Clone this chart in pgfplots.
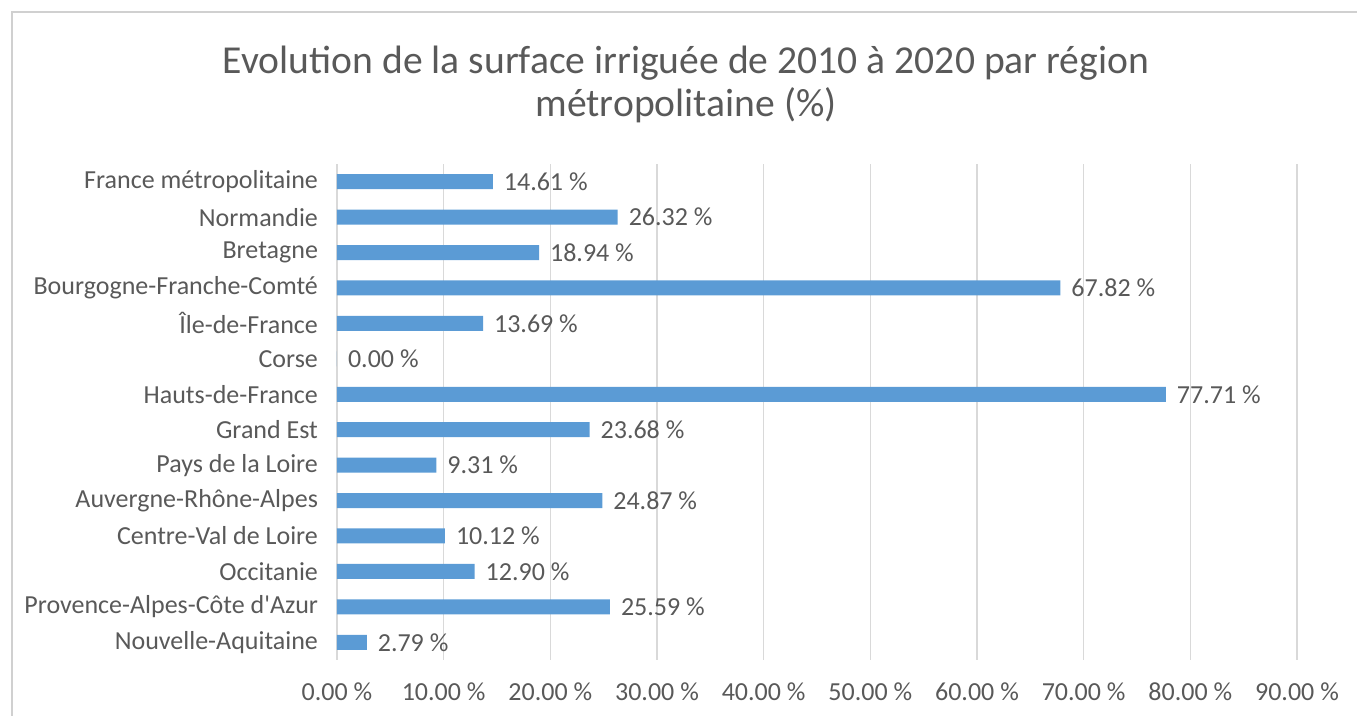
\documentclass[border=0pt]{standalone}
\usepackage{pgfplots}
\pgfplotsset{compat=1.18}
\usepackage{fontspec}
\setmainfont{Carlito}
\definecolor{barblue}{HTML}{5B9BD5}
\definecolor{txtgray}{HTML}{595959}
\definecolor{gridgray}{HTML}{D9D9D9}
\definecolor{framegray}{HTML}{D0D0D0}
\begin{document}
\begin{tikzpicture}
\useasboundingbox (-168.5pt,-28pt) rectangle (510pt,330pt);
\draw[framegray, line width=1pt] (-162.5pt,-40pt) -- (-162.5pt,324pt) -- (520pt,324pt);
\node[txtgray, align=center, font=\fontsize{19.8}{21.5}\selectfont] at (174.5pt,288pt)
  {Evolution de la surface irriguée de 2010 à 2020 par région\\métropolitaine (\%)};
\begin{axis}[
  at={(0pt,0pt)}, anchor=south west,
  scale only axis, width=480pt, height=248pt,
  xbar, bar width=7.5pt,
  xmin=0, xmax=90, ymin=-0.5, ymax=13.5,
  axis line style={draw=none},
  xmajorgrids, major grid style={gridgray, line width=0.6pt},
  xtick={0,10,...,90},
  ytick={0,...,13},
  yticklabels={Nouvelle-Aquitaine, Provence-Alpes-Côte d\textquotesingle Azur, Occitanie, Centre-Val de Loire, Auvergne-Rhône-Alpes, Pays de la Loire, Grand Est, Hauts-de-France, Corse, Île-de-France, Bourgogne-Franche-Comté, Bretagne, Normandie, France métropolitaine},
  major tick length=0pt,
  /pgf/number format/assume math mode=true,
  xticklabel={\pgfmathprintnumber[fixed,fixed zerofill,precision=2]{\tick}~\%},
  tick label style={font=\fontsize{13}{15}\selectfont, text=txtgray},
  xticklabel style={yshift=-8pt},
  yticklabel style={xshift=-6pt},
  point meta=x,
  nodes near coords={\pgfmathprintnumber[fixed,fixed zerofill,precision=2]{\pgfplotspointmeta}~\%},
  nodes near coords style={font=\fontsize{13}{15}\selectfont, text=txtgray, anchor=west, xshift=2pt},
]
\addplot[fill=barblue, draw=none] coordinates {
(2.79,0) (25.59,1) (12.90,2) (10.12,3) (24.87,4) (9.31,5) (23.68,6)
(77.71,7) (0.00,8) (13.69,9) (67.82,10) (18.94,11) (26.32,12) (14.61,13)
};
\end{axis}
\end{tikzpicture}
\end{document}
